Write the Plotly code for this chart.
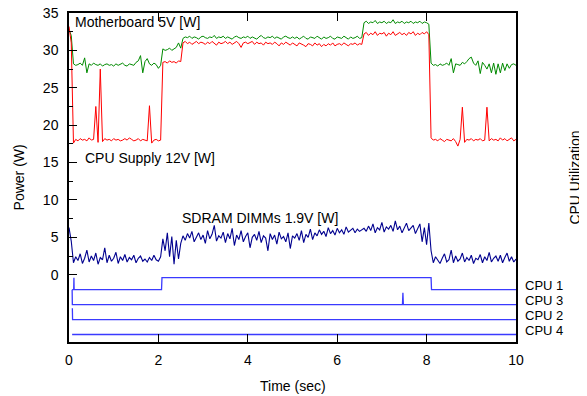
import plotly.graph_objects as go

# ---------------- data ----------------
SAMPLE_DT = 0.05  # seconds between power samples

motherboard_5v = [
    32.8, 32.0,
    28.2, 28.0, 28.1, 28.3, 28.0, 29.0, 27.0, 28.2, 28.0, 28.3,
    28.1, 28.0, 28.2, 27.9, 28.1, 28.2, 28.0, 28.1, 27.9, 28.2,
    28.0, 28.1, 28.3, 28.0, 27.9, 28.2, 28.1, 28.0, 28.4, 28.6,
    29.3, 27.0, 28.5, 28.9, 28.2, 28.0, 28.3, 28.1, 27.6, 28.0,
    30.2, 30.0, 30.1, 30.3, 30.0, 30.2, 30.4, 31.0, 30.3,
    31.6, 31.8, 31.7, 31.9, 31.6, 31.8, 31.7, 31.5, 31.8, 31.9,
    31.7, 31.6, 31.8, 31.7, 32.0, 31.6, 31.8, 31.7, 31.9, 31.6,
    31.8, 31.7, 31.5, 31.8, 31.9, 31.7, 31.6, 31.8, 31.7, 31.9,
    31.6, 31.8, 31.7, 31.5, 31.8, 32.0, 31.7, 31.6, 31.8, 31.7,
    31.9, 31.6, 31.8, 31.7, 31.5, 31.8, 31.9, 31.7, 31.6, 31.8,
    31.6, 31.8, 31.5, 31.7, 31.9, 31.6, 31.5, 31.8, 31.7, 31.6,
    31.9, 31.7, 31.5, 31.8, 31.6, 31.7, 31.9, 31.6, 31.5, 31.8,
    31.7, 31.6, 31.9, 31.7, 31.5, 31.8, 31.6, 31.7, 31.9, 31.6,
    31.7,
    33.7, 33.9, 33.6, 33.8, 33.7, 34.0, 33.6, 33.8, 33.7, 33.9,
    33.6, 33.8, 33.7, 34.1, 33.6, 33.8, 33.7, 33.9, 33.6, 33.8,
    33.7, 33.9, 33.6, 33.8, 33.7, 33.9, 33.6, 33.8, 33.7, 33.5,
    28.3, 28.0, 28.1, 27.9, 28.2, 28.0, 28.1, 28.3, 28.0, 28.9,
    27.0, 28.2, 28.1, 28.0, 28.4, 28.2, 28.5, 28.9, 29.1, 28.3,
    28.0, 28.6, 26.9, 28.4, 28.0, 27.5, 28.2, 27.0, 28.3, 26.8,
    28.2, 27.0, 28.3, 27.3, 28.2, 27.6, 28.1, 28.2, 28.0,
]

cpu_supply_12v = [
    33.2, 31.0,
    17.6, 18.1, 17.9, 18.2, 18.0, 18.1, 17.9, 18.3, 18.0, 18.1,
    22.5, 17.7, 27.5, 17.8, 18.2, 18.0, 18.1, 17.9, 18.2, 18.0,
    18.1, 17.9, 18.0, 18.2, 18.0, 18.3, 18.1, 17.9, 18.0, 18.2,
    17.9, 18.1, 18.0, 17.9, 22.6, 17.6, 18.0, 18.1, 17.9, 18.0,
    28.4, 28.5, 28.3, 28.6, 28.4, 28.5, 28.3, 28.6, 28.5,
    31.0, 31.2, 30.9, 31.1, 30.8, 31.0, 31.2, 30.9, 31.1, 31.0,
    30.8, 31.1, 30.9, 31.2, 31.0, 30.7, 31.1, 30.9, 31.0, 31.2,
    30.9, 31.1, 30.8, 31.0, 31.2, 30.9, 30.4, 31.0, 31.1, 30.9,
    31.0, 31.2, 30.8, 31.1, 30.9, 31.0, 30.7, 31.1, 30.9, 31.0,
    30.8, 31.1, 30.9, 30.6, 31.0, 30.8, 31.1, 30.9, 30.7, 31.0,
    30.8, 30.6, 31.0, 30.9, 30.7, 30.5, 30.9, 30.8, 30.6, 31.0,
    30.7, 30.9, 30.5, 30.8, 30.6, 30.9, 30.7, 31.0, 30.6, 30.8,
    30.9, 30.7, 31.0, 30.8, 30.6, 30.9, 30.8, 31.0, 30.7, 30.9,
    30.8,
    32.2, 32.4, 32.0, 32.3, 32.1, 32.5, 32.0, 32.3, 32.2, 32.4,
    31.9, 32.3, 32.1, 32.5, 32.0, 32.2, 32.4, 32.1, 32.3, 32.0,
    32.4, 32.2, 32.5, 32.0, 32.3, 32.1, 32.4, 32.2, 32.5, 32.1,
    18.3, 18.0, 18.1, 17.9, 18.2, 18.0, 17.8, 18.1, 18.0, 17.9,
    18.2, 17.8, 17.2, 18.1, 22.4, 17.7, 18.1, 18.0, 18.2, 17.9,
    18.1, 18.0, 18.2, 17.9, 18.0, 22.4, 17.9, 18.2, 18.0, 18.1,
    17.9, 18.3, 18.0, 18.2, 17.9, 18.1, 18.3, 17.9, 18.1,
]

sdram_1_9v = [
    6.3, 4.5,
    1.6, 2.4, 1.9, 2.8, 1.5, 2.2, 3.3, 1.7, 2.5, 1.9,
    2.9, 1.4, 2.3, 2.0, 3.6, 1.6, 2.6, 1.8, 2.2, 3.0,
    1.5, 2.4, 1.9, 2.7, 1.7, 2.3, 2.0, 2.6, 1.6, 2.2,
    2.5, 1.8, 2.1, 1.7, 2.3, 1.9, 2.6, 2.0, 1.8, 2.4,
    4.8, 3.2, 5.6, 2.4, 5.1, 1.4, 4.6, 2.1, 4.2,
    5.2, 4.6, 5.5, 4.9, 5.8, 4.4, 5.1, 5.6, 4.7, 5.3,
    4.2, 5.9, 4.8, 5.4, 6.6, 4.5, 5.2, 4.9, 5.7, 4.3,
    5.5, 4.8, 6.2, 3.9, 5.3, 4.7, 5.9, 4.4, 5.1, 5.6,
    3.6, 5.0, 5.4, 4.6, 5.8, 4.3, 5.2, 4.9, 3.2, 5.5,
    4.7, 5.3, 4.1, 5.7, 4.8, 5.1, 4.4, 5.6, 3.5, 5.2,
    4.9, 5.5, 4.6, 5.9, 4.3, 5.4, 5.0, 6.1, 4.7, 5.6,
    5.2, 6.0, 5.4, 5.8, 5.1, 6.3, 5.5, 5.9, 5.3, 6.2,
    5.6, 6.0, 5.4, 6.4, 5.7, 5.9, 6.2, 5.6, 6.1, 5.8,
    6.0,
    6.2, 5.8, 6.5, 5.9, 6.8, 5.6, 6.3, 6.0, 7.0, 5.7,
    6.4, 6.1, 6.6, 5.8, 7.2, 6.0, 6.5, 5.6, 6.3, 6.9,
    5.9, 6.2, 6.6, 5.5, 6.1, 6.8, 4.4, 6.3, 4.0, 6.9,
    3.2, 1.6, 2.4, 1.9, 1.5, 2.2, 2.8, 1.7, 2.0, 3.3,
    1.6, 2.5, 1.8, 2.1, 2.9, 1.7, 2.3, 1.9, 2.6, 1.5,
    2.2, 2.0, 2.7, 1.6, 2.4, 1.9, 3.0, 1.7, 2.2, 2.5,
    1.8, 2.6, 1.6, 2.3, 2.9, 1.8, 2.4, 1.7, 2.1,
]

# CPU utilization (%) step traces: (time, utilization)
cpu1_time = [0.07, 0.105, 0.11, 0.115, 2.07, 2.08, 8.10, 8.11, 10.0]
cpu1_util = [0, 0, 80, 0, 0, 80, 80, 0, 0]
cpu3_time = [0.07, 0.075, 7.46, 7.47, 7.48, 10.0]
cpu3_util = [100, 0, 0, 80, 0, 0]
cpu2_time = [0.075, 0.08, 10.0]
cpu2_util = [75, 0, 0]
cpu4_time = [0.07, 10.0]
cpu4_util = [0, 0]

cpu_names = ["CPU 1", "CPU 3", "CPU 2", "CPU 4"]
cpu_baselines = [-2, -4, -6, -8]        # offset of each CPU trace on the power axis
CPU_UNITS_PER_100 = 2.0                 # 100 % utilization spans 2 W-units
cpu_label_y = [-1.5, -3.45, -5.45, -7.45]

x_ticks = [0, 2, 4, 6, 8, 10]
y_ticks = [0, 5, 10, 15, 20, 25, 30, 35]
y_minor = [2.5, 7.5, 12.5, 17.5, 22.5, 27.5, 32.5]

# ---------------- figure ----------------
FONT = "Liberation Sans, Arial, sans-serif"
time = [round(i * SAMPLE_DT, 3) for i in range(len(motherboard_5v))]

fig = go.Figure()
fig.add_trace(go.Scatter(x=time, y=motherboard_5v, mode="lines",
                         line=dict(color="#008a00", width=1), name="Motherboard 5V"))
fig.add_trace(go.Scatter(x=time, y=cpu_supply_12v, mode="lines",
                         line=dict(color="#ff0000", width=1), name="CPU Supply 12V"))
fig.add_trace(go.Scatter(x=time, y=sdram_1_9v, mode="lines",
                         line=dict(color="#00008f", width=1.1), name="SDRAM DIMMs 1.9V"))

cpu_series = [(cpu1_time, cpu1_util), (cpu3_time, cpu3_util),
              (cpu2_time, cpu2_util), (cpu4_time, cpu4_util)]
for (ts, us), base, name in zip(cpu_series, cpu_baselines, cpu_names):
    fig.add_trace(go.Scatter(x=ts, y=[base + u * CPU_UNITS_PER_100 / 100 for u in us],
                             mode="lines", line=dict(color="#3a3aff", width=1.3),
                             name=name))

annots = [
    dict(x=0.09, y=33.8, text="Motherboard 5V [W]", xref="x", yref="y",
         xanchor="left", yanchor="middle", showarrow=False),
    dict(x=0.31, y=15.6, text="CPU Supply 12V [W]", xref="x", yref="y",
         xanchor="left", yanchor="middle", showarrow=False),
    dict(x=2.48, y=7.6, text="SDRAM DIMMs 1.9V [W]", xref="x", yref="y",
         xanchor="left", yanchor="middle", showarrow=False),
    dict(x=0.5, y=-0.134, text="Time (sec)", xref="paper", yref="paper",
         xanchor="center", yanchor="middle", showarrow=False),
    dict(x=-0.112, y=0.5, text="Power (W)", xref="paper", yref="paper",
         xanchor="center", yanchor="middle", textangle=-90, showarrow=False),
    dict(x=1.13, y=0.5, text="CPU Utilization", xref="paper", yref="paper",
         xanchor="center", yanchor="middle", textangle=-90, showarrow=False),
]
for name, ly in zip(cpu_names, cpu_label_y):
    annots.append(dict(x=10, y=ly, text=name, xref="x", yref="y", xanchor="left",
                       yanchor="middle", xshift=7, showarrow=False,
                       font=dict(size=13)))

# The page body has an 8px default margin, so the figure is sized/positioned to
# land the plot box at the reference pixel positions.
fig.update_layout(
    width=579, height=388,
    margin=dict(l=61, r=71, t=5, b=54, autoexpand=False),
    paper_bgcolor="white", plot_bgcolor="white",
    showlegend=False,
    font=dict(family=FONT, size=14, color="black"),
    annotations=annots,
    xaxis=dict(range=[0, 10], tickvals=x_ticks, ticks="inside", ticklen=8,
               tickcolor="black", showline=True, linecolor="black", linewidth=1.5,
               mirror="ticks", showgrid=False, zeroline=False, automargin=False,
               ticklabelstandoff=4, tickfont=dict(size=14),
               ticklabeloverflow="allow"),
    yaxis=dict(range=[-9, 35], tickvals=y_ticks, ticks="inside", ticklen=8,
               tickcolor="black", showline=True, linecolor="black", linewidth=1.5,
               mirror=True, showgrid=False, zeroline=False, automargin=False,
               ticklabelstandoff=6, tickfont=dict(size=14),
               ticklabeloverflow="allow",
               minor=dict(tickvals=y_minor, ticks="inside", ticklen=4,
                          tickcolor="black", showgrid=False)),
)

fig.write_html("out.html")
